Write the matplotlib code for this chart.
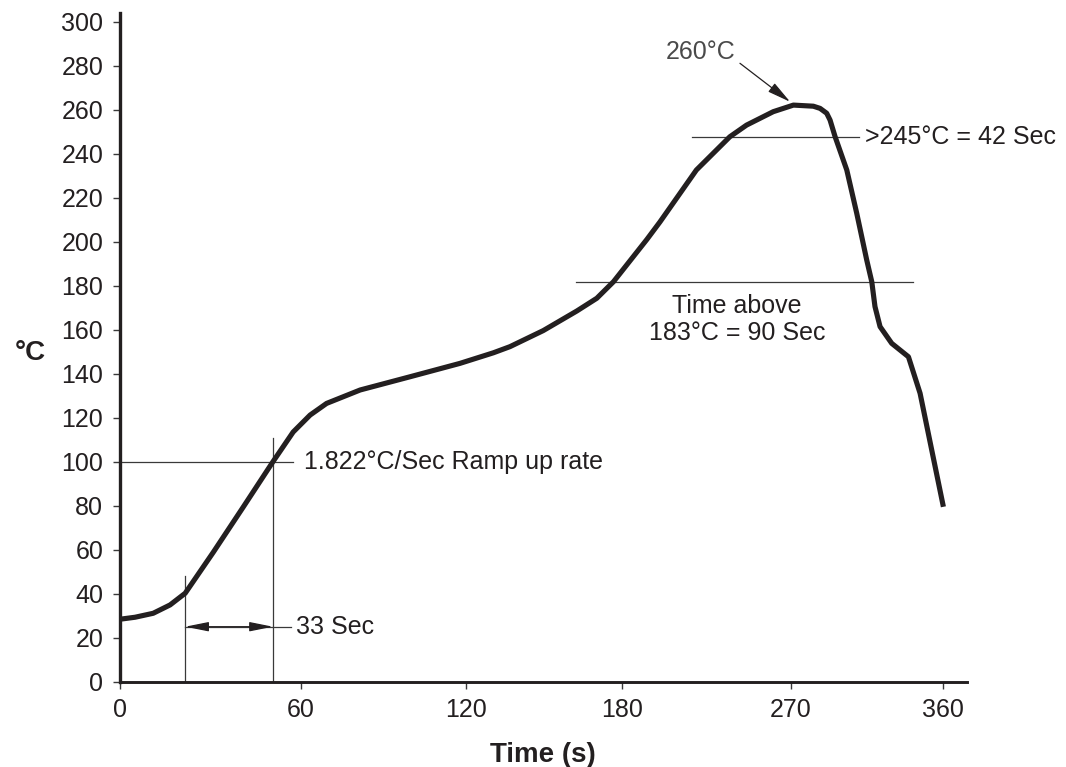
import numpy as np
import matplotlib
matplotlib.use("Agg")
import matplotlib.pyplot as plt

plt.rcParams['font.family'] = ['Liberation Sans', 'DejaVu Sans']

# reflow profile (time in s, temperature in degC)
time_s = [0, 5, 11, 16.6, 21.6, 30.9, 40.9, 50.7, 57.4, 63.3, 69.3, 81.5, 99.6,
          117.8, 130.5, 136.9, 149.7, 162.6, 170.3, 176.7, 193.2, 200.2, 219.6,
          237.4, 246.3, 260.5, 271.4, 283.2, 287.2, 291.1, 293.1, 296.1, 303.0,
          308.9, 314.8, 317.8, 319.7, 322.7, 329.6, 339.5, 346.4, 360.2]
temp_c = [28.4, 29.3, 31.1, 34.9, 40.2, 58.8, 79.5, 100.0, 113.5, 121.2, 126.5, 132.6, 138.6,
          144.7, 149.5, 152.3, 159.6, 168.5, 174.3, 181.8, 201.0, 209.0, 232.6,
          247.7, 253.0, 259.1, 262.1, 261.6, 260.6, 258.4, 255.3, 247.7, 232.6,
          212.9, 191.7, 181.8, 170.5, 161.4, 153.8, 147.7, 131.1, 79.5]

x_ticks = [0, 60, 120, 180, 270, 360]
y_ticks = list(range(0, 301, 20))

# the printed time axis is not evenly spaced: where each tick sits (px)
knot_time = [-60, 0, 60, 120, 180, 270, 360, 450]
knot_px = [-61, 120, 301, 466, 622, 791, 943, 1095]

def fwd(t):
    return np.interp(t, knot_time, knot_px)

def inv(p):
    return np.interp(p, knot_px, knot_time)

ink = '#231f20'
thin = '#3a3a3a'

fig = plt.figure(figsize=(10.66, 7.67), dpi=100)
fig.subplots_adjust(left=120/1066, right=966.7/1066, bottom=85.3/767, top=1-12.7/767)
ax = fig.add_subplot(111)
ax.set_xscale('function', functions=(fwd, inv))
ax.set_xlim(0, 374)
ax.set_ylim(0, 304.1)

# annotation lines
ax.plot([0, 57.4], [100, 100], color=thin, lw=0.9)
ax.plot([50.7, 50.7], [0, 110.6], color=thin, lw=0.9)
ax.plot([21.6, 21.6], [0, 48.2], color=thin, lw=0.9)
ax.plot([21.6, 56.7], [25, 25], color=thin, lw=0.9)
ax.annotate('', xy=(21.6, 25), xytext=(50.7, 25),
            arrowprops=dict(arrowstyle='<|-|>,head_length=0.8,head_width=0.16',
                            mutation_scale=18, color=ink, lw=0.9,
                            shrinkA=0, shrinkB=0))
ax.plot([162.3, 342.1], [181.7, 181.7], color=thin, lw=0.9)
ax.plot([217.1, 310.3], [247.7, 247.7], color=thin, lw=0.9)
ax.annotate('', xy=(269.5, 263.6), xytext=(242.8, 281.1),
            arrowprops=dict(arrowstyle='-|>,head_length=0.8,head_width=0.18',
                            mutation_scale=18, color=ink, lw=0.9,
                            shrinkA=0, shrinkB=0))

# the profile
ax.plot(time_s, temp_c, color=ink, lw=3.7, solid_joinstyle='round',
        solid_capstyle='butt', zorder=5)

fs = 18
ax.text(61.1, 100, '1.822°C/Sec Ramp up rate', fontsize=fs, color=ink,
        ha='left', va='center')
ax.text(58.3, 25, '33 Sec', fontsize=fs, color=ink, ha='left', va='center')
ax.text(241.2, 164.5, 'Time above\n183°C = 90 Sec', fontsize=fs, color=ink,
        ha='center', va='center', linespacing=1.15)
ax.text(314.0, 247.7, '>245°C = 42 Sec', fontsize=fs, color=ink,
        ha='left', va='center')
ax.text(222.1, 286.4, '260°C', fontsize=fs, color='#4a4a4a',
        ha='center', va='center')

ax.set_xticks(x_ticks)
ax.set_xticklabels([str(v) for v in x_ticks])
ax.set_yticks(y_ticks)
ax.minorticks_off()
ax.tick_params(axis='both', labelsize=fs, labelcolor=ink, color=thin,
               length=5, width=1, direction='out', pad=7)

for side in ['top', 'right']:
    ax.spines[side].set_visible(False)
ax.spines['left'].set_linewidth(2.4)
ax.spines['bottom'].set_linewidth(2.1)
ax.spines['left'].set_color(ink)
ax.spines['bottom'].set_color(ink)

ax.set_xlabel('Time (s)', fontsize=20, fontweight='bold', color=ink, labelpad=14)
ax.set_ylabel('°C', fontsize=20, fontweight='bold', color=ink, rotation=0,
              ha='center', va='center')
ax.yaxis.set_label_coords(-0.106, 0.492)

fig.savefig('out.png', dpi=100)
